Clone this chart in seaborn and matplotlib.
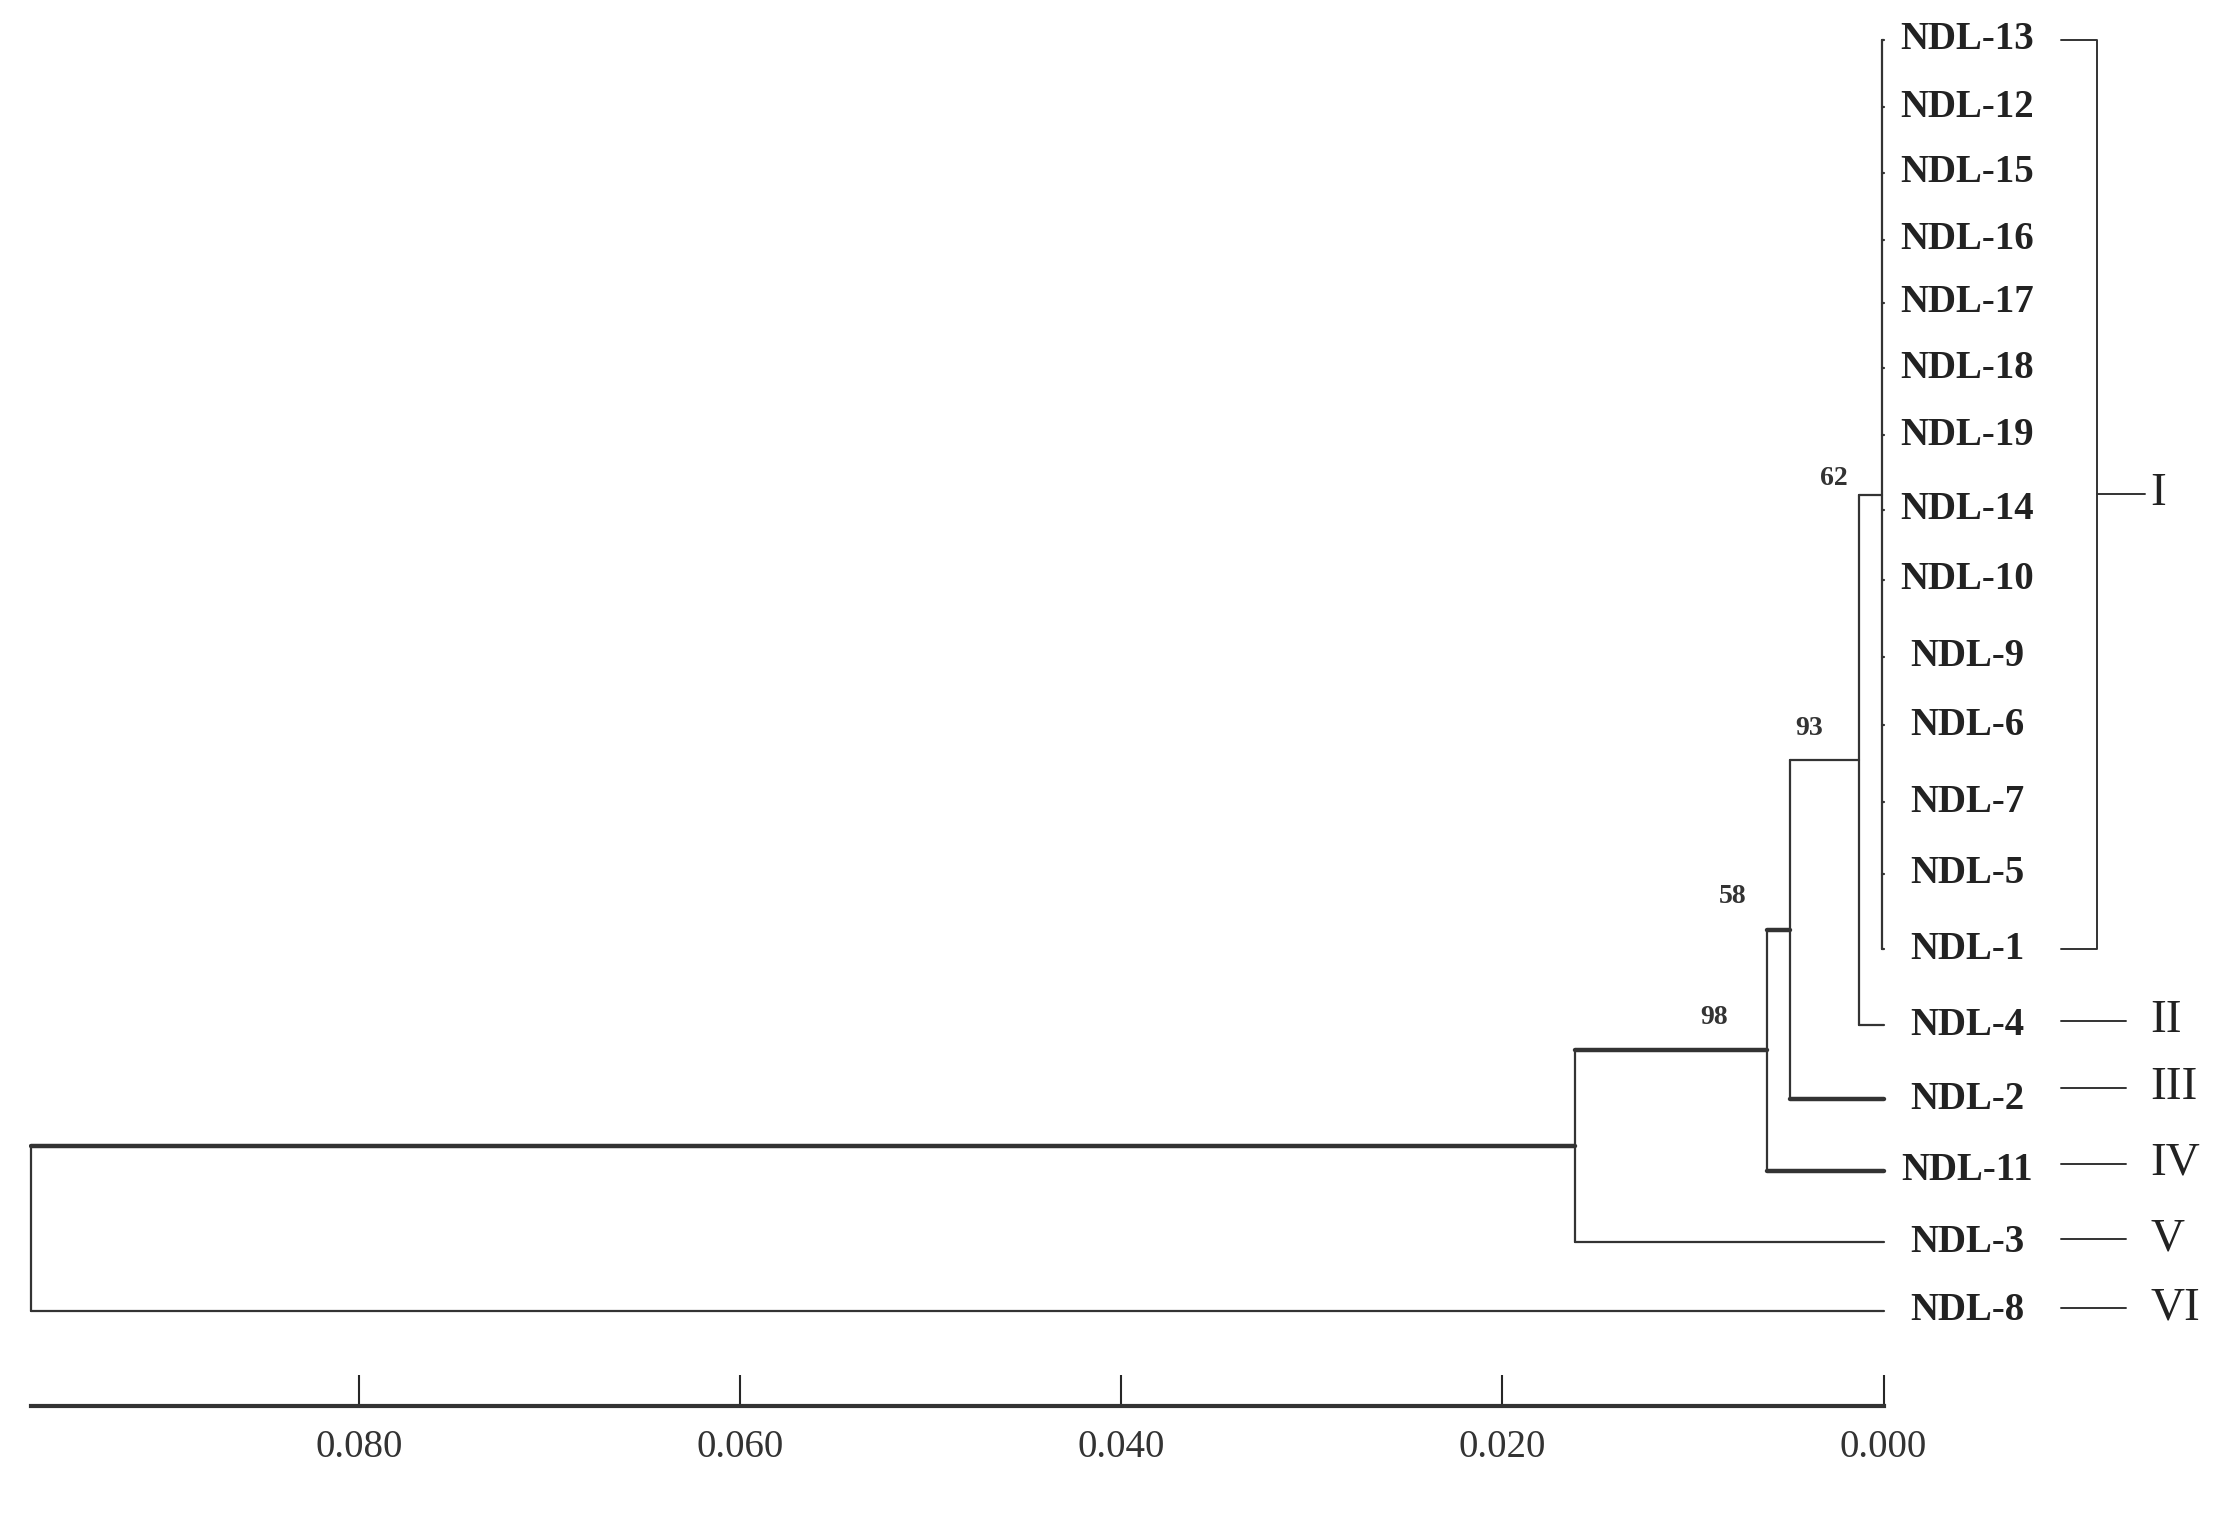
import matplotlib
matplotlib.use("Agg")
import matplotlib.pyplot as plt
import seaborn as sns

sns.set_theme(style="white")
plt.rcParams['font.family'] = ['Liberation Serif', 'DejaVu Serif']

# leaves, in top-to-bottom order, with vertical positions
leaves = ["NDL-13", "NDL-12", "NDL-15", "NDL-16", "NDL-17", "NDL-18", "NDL-19", "NDL-14",
          "NDL-10", "NDL-9", "NDL-6", "NDL-7", "NDL-5", "NDL-1", "NDL-4", "NDL-2",
          "NDL-11", "NDL-3", "NDL-8"]
leaf_y = [28, 75, 121, 168, 212, 258, 305, 357, 406, 460, 508, 562, 612, 665,
          718, 770, 820, 870, 918]

# internal nodes: name -> (height, children, bootstrap)
nodes = {
    "E": (0.0001, leaves[:14], "62"),
    "D": (0.0013, ["E", "NDL-4"], "93"),
    "C": (0.0049, ["D", "NDL-2"], "58"),
    "B": (0.0061, ["C", "NDL-11"], "98"),
    "A": (0.0162, ["B", "NDL-3"], ""),
    "root": (0.0972, ["A", "NDL-8"], ""),
}
thick = {"NDL-2", "NDL-11", "A", "B", "C"}
support_pos = {"62": (0.0026, 335), "93": (0.0039, 510), "58": (0.0079, 628), "98": (0.0089, 713)}

groups = ["I", "II", "III", "IV", "V", "VI"]
group_y = [346, 715, 762, 815, 868, 916]

fig = plt.figure(figsize=(22.38, 15.22), dpi=100)
ax = fig.add_axes([0.013, 0.076, 0.987, 0.924])

ypos = dict(zip(leaves, leaf_y))
xpos = {l: 0.0 for l in leaves}


def place(name):
    if name in ypos:
        return ypos[name]
    h, kids, _ = nodes[name]
    ys = [place(k) for k in kids]
    xpos[name] = h
    ypos[name] = (min(ys) + max(ys)) / 2
    return ypos[name]


place("root")
for name, (h, kids, sup) in nodes.items():
    ys = [ypos[k] for k in kids]
    ax.plot([h, h], [min(ys), max(ys)], color="#333333", lw=1.6)
    for k in kids:
        lw = 3.2 if k in thick else 1.6
        ax.plot([h, xpos[k]], [ypos[k], ypos[k]], color="#333333", lw=lw)
for sup, (x, y) in support_pos.items():
    ax.text(x, y, sup, ha="center", va="center", fontsize=20, fontweight="bold", color="#333333")

for l, y in zip(leaves, leaf_y):
    ax.text(-0.0044, y, l, ha="center", va="center", fontsize=28, fontweight="bold",
            color="#222222", bbox=dict(fc="white", ec="none", pad=1))

# group markers
ax.plot([-0.0093, -0.0112, -0.0112, -0.0093], [28, 28, 665, 665], color="#333333", lw=1.4)
ax.plot([-0.0112, -0.0137], [346, 346], color="#333333", lw=1.4)
for g, y in zip(groups[1:], group_y[1:]):
    ax.plot([-0.0093, -0.0127], [y, y], color="#333333", lw=1.4)
for g, y in zip(groups, group_y):
    ax.text(-0.0140, y, g, ha="left", va="center", fontsize=34, color="#222222")

ax.set_xlim(0.0973, -0.0186)
ax.set_ylim(985, 0)
for s in ["top", "left", "right"]:
    ax.spines[s].set_visible(False)
ax.spines["bottom"].set_bounds(0, 0.0972)
ax.spines["bottom"].set_linewidth(3)
ax.spines["bottom"].set_color("#333333")
ax.set_xticks([0.08, 0.06, 0.04, 0.02, 0.0])
ax.set_xticklabels(["0.080", "0.060", "0.040", "0.020", "0.000"], fontsize=28, color="#333333")
ax.tick_params(axis="x", direction="in", length=22, width=1.5, bottom=True, pad=16)
ax.set_yticks([])

fig.savefig("out.png", dpi=100, facecolor="white")
